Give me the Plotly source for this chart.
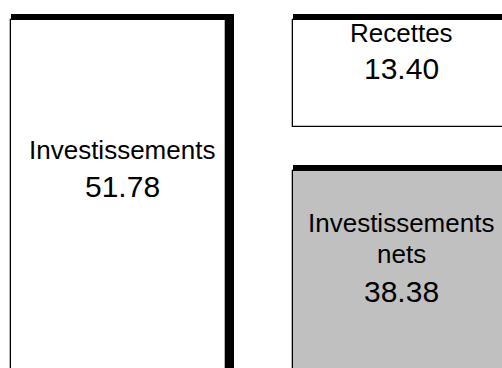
import plotly.graph_objects as go

# ---- data ----
labels = ["Investissements", "Recettes", "Investissements<br>nets"]
values = [51.78, 13.40, 38.38]
value_text = [f"{v:.2f}" for v in values]

# ---- layout constants ----
W, H = 502, 368
GAP = 5.51                      # vertical gap between the two right-hand boxes (value units)
bases = [0.0, 0.0, values[1] + GAP]
x_left = [11, 293, 293]         # left edge of each box body (px units on x axis)
body_w = 215
fills = ["white", "white", "#C0C0C0"]
Y_TOP, Y_BOT = -2.505, 43.58    # reversed y-axis range (value units)
FONT = "Arial, Liberation Sans, sans-serif"
PX_PER_UNIT = H / (Y_BOT - Y_TOP)

fig = go.Figure()
for i in range(len(values)):
    fig.add_trace(go.Bar(
        x=[x_left[i] + body_w / 2], y=[values[i]], base=[bases[i]], width=[body_w],
        marker=dict(color=fills[i], line=dict(color="black", width=1.3)),
        hoverinfo="skip", showlegend=False,
    ))

shapes = []
for i in range(len(values)):
    # thick top strip (above box body)
    shapes.append(dict(type="rect", xref="x", yref="y", ysizemode="pixel", yanchor=bases[i],
                       x0=x_left[i], x1=x_left[i] + body_w + 8, y0=0, y1=6,
                       fillcolor="black", line=dict(width=0), layer="above"))
    # thick right strip
    shapes.append(dict(type="rect", xref="x", yref="y", ysizemode="pixel", yanchor=bases[i],
                       x0=x_left[i] + body_w, x1=x_left[i] + body_w + 8,
                       y0=6, y1=-values[i] * PX_PER_UNIT + 6,
                       fillcolor="black", line=dict(width=0), layer="above"))

def py(px):
    return 1 - px / H

annots = []
label_pos = [(122, [150]), (401, [33]), (401, [223, 254])]
num_pos = [(122, 186.5), (401, 68.5), (401, 291.5)]
for i in range(len(values)):
    xc, ys = label_pos[i]
    for line, ypx in zip(labels[i].split("<br>"), ys):
        annots.append(dict(x=xc, xref="x", y=py(ypx), yref="paper", text=line, showarrow=False,
                           xanchor="center", yanchor="middle",
                           font=dict(family=FONT, size=26, color="black")))
    xc, ypx = num_pos[i]
    annots.append(dict(x=xc, xref="x", y=py(ypx), yref="paper", text=value_text[i], showarrow=False,
                       xanchor="center", yanchor="middle",
                       font=dict(family=FONT, size=30, color="black")))

fig.update_layout(
    width=W, height=H, margin=dict(l=0, r=0, t=0, b=0),
    paper_bgcolor="white", plot_bgcolor="white",
    barmode="overlay", bargap=0,
    xaxis=dict(range=[0, W], visible=False, fixedrange=True),
    yaxis=dict(range=[Y_BOT, Y_TOP], visible=False, fixedrange=True),
    shapes=shapes, annotations=annots, showlegend=False,
)
fig.write_html("out.html", config={"displayModeBar": False},
               post_script="document.body.style.margin='0';document.body.style.overflow='hidden';")
